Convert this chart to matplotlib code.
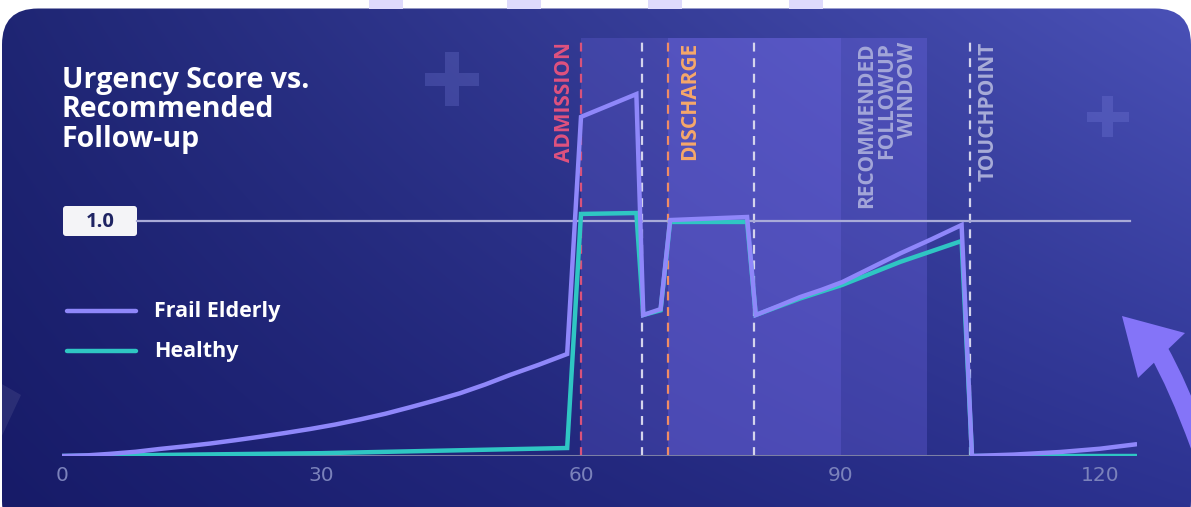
import numpy as np
import matplotlib
matplotlib.use("Agg")
import matplotlib.pyplot as plt
from matplotlib.patches import FancyBboxPatch, Polygon, Rectangle, PathPatch
from matplotlib.path import Path

# -----------------------------
# Данные
# -----------------------------
frail_x = [0, 3, 5.5, 8.5, 11.3, 14.2, 17.1, 20, 22.9, 25.8, 28.7, 31.6, 34.5,
           37.4, 40.2, 43.1, 46, 48.9, 51.8, 55.1, 58.4,
           60, 66.4, 67.2, 69.2, 70.3, 79.2, 80.2, 82.8, 85.3, 87.8, 90.2,
           93.5, 96.9, 100.5, 104, 105.2, 110, 115.4, 120, 124.2]
frail_y = [0, 0.003, 0.009, 0.018, 0.03, 0.041, 0.053, 0.067, 0.082, 0.098, 0.115,
           0.134, 0.156, 0.18, 0.207, 0.236, 0.267, 0.304, 0.345, 0.388, 0.434,
           1.443, 1.54, 0.60, 0.625, 1.004, 1.017, 0.60, 0.638, 0.676, 0.707, 0.74,
           0.8, 0.862, 0.922, 0.983, 0, 0.006, 0.017, 0.031, 0.05]

healthy_x = [0, 30, 58.4, 60, 66.4, 67.2, 69.2, 70.3, 79.2, 80.2, 85.3, 90.2,
             96.9, 104, 105.2, 124.2]
healthy_y = [0, 0.012, 0.034, 1.03, 1.034, 0.60, 0.62, 0.996, 0.996, 0.60, 0.67, 0.728,
             0.826, 0.915, 0, 0]

bands = [(60, 70), (70, 90), (90, 100)]
band_alpha = [0.22, 0.45, 0.28]

events = [60, 67, 70, 80, 105]
event_colors = ["#d9527a", "#d4d4ec", "#f08c64", "#d4d4ec", "#d4d4ec"]

xticks = [0, 30, 60, 90, 120]
ref_level = 1.0

W, H = 1191, 507

FRAIL = "#8f87fa"
HEALTHY = "#2fc6c3"

fig = plt.figure(figsize=(W / 100, H / 100), dpi=100)
fig.patch.set_facecolor("white")

# -----------------------------
# Фон-карточка (пиксельные координаты)
# -----------------------------
bg = fig.add_axes([0, 0, 1, 1])
bg.set_xlim(0, W)
bg.set_ylim(H, 0)
bg.axis("off")

for x0, x1 in [(369, 403), (507, 541), (648, 682), (789, 823)]:
    bg.add_patch(Rectangle((x0, 0), x1 - x0, 9, color="#dedafc", lw=0))

card = FancyBboxPatch((2, 8.5), W - 2, H - 8.5 + 30,
                      boxstyle="round,pad=0,rounding_size=36",
                      fc="none", ec="none")
bg.add_patch(card)

tl = np.array([0x1f, 0x26, 0x74]) / 255
tr = np.array([0x4a, 0x51, 0xb7]) / 255
bl = np.array([0x17, 0x1b, 0x68]) / 255
br = np.array([0x2c, 0x32, 0x90]) / 255
u = np.linspace(0, 1, 300)[None, :, None]
v = np.linspace(0, 1, 130)[:, None, None]
grad = (1 - v) * ((1 - u) * tl + u * tr) + v * ((1 - u) * bl + u * br)
im = bg.imshow(grad, extent=(0, W, H, 0), aspect="auto", zorder=0,
               interpolation="bilinear")
im.set_clip_path(card)

deco = []
# плюсы
plus_kw = dict(fc="#8a90ee", alpha=0.22, lw=0)
deco.append(Rectangle((425, 73), 54, 13, **plus_kw))
deco.append(Rectangle((445, 52), 14, 21, **plus_kw))
deco.append(Rectangle((445, 86), 14, 20, **plus_kw))
deco.append(Rectangle((1087, 112), 42, 10, **plus_kw))
deco.append(Rectangle((1102, 96), 11, 16, **plus_kw))
deco.append(Rectangle((1102, 122), 11, 15, **plus_kw))
# треугольник слева
deco.append(Polygon([(0, 383), (21, 395), (0, 440)], fc="white", alpha=0.08, lw=0))
# стрелка справа
deco.append(Polygon([(1122, 316), (1185, 333), (1138, 378)], fc="#8474f8", lw=0))
shaft = Path([(1158, 350), (1178, 385), (1200, 445)],
             [Path.MOVETO, Path.CURVE3, Path.CURVE3])
deco.append(PathPatch(shaft, fc="none", ec="#8474f8", lw=14))
for p in deco:
    bg.add_patch(p)
    p.set_clip_path(card)

# заголовок
bg.text(62, 66, "Urgency Score vs.\nRecommended\nFollow-up", color="white",
        fontsize=20.5, fontweight="bold", family="Open Sans",
        va="top", ha="left", linespacing=1.02)

# метка 1.0
bg.add_patch(FancyBboxPatch((63, 206), 74, 30, boxstyle="round,pad=0,rounding_size=3",
                            fc="#f4f4f7", ec="none"))
bg.text(100, 222, "1.0", color="#1f2463", fontsize=14.5, fontweight="bold",
        family="Open Sans", ha="center", va="center")

# легенда
bg.plot([67, 136], [311, 311], color=FRAIL, lw=3.2, solid_capstyle="round")
bg.plot([67, 136], [351, 351], color=HEALTHY, lw=3.2, solid_capstyle="round")
bg.text(154, 311, "Frail Elderly", color="white", fontsize=15.5, fontweight="bold",
        family="Open Sans", va="center", ha="left")
bg.text(154, 351, "Healthy", color="white", fontsize=15.5, fontweight="bold",
        family="Open Sans", va="center", ha="left")

# -----------------------------
# График
# -----------------------------
px = 8.65
x_right = (1137 - 62) / px
y_top = (456 - 38) / 235
ax = fig.add_axes([62 / W, (H - 456) / H, 1075 / W, 418 / H])
ax.set_xlim(0, x_right)
ax.set_ylim(0, y_top)
ax.patch.set_alpha(0)
for s in ax.spines.values():
    s.set_visible(False)

for (a, b), al in zip(bands, band_alpha):
    ax.axvspan(a, b, color="#7a70f0", alpha=al, lw=0, zorder=1)

for xe, c in zip(events, event_colors):
    ax.axvline(xe, color=c, lw=1.6, ls=(0, (4, 3)), zorder=2)

ax.plot([(137 - 62) / px, (1130 - 62) / px], [ref_level, ref_level],
        color="#a9abd8", lw=1.6, zorder=2)
ax.axhline(0, color="#7c7fa5", lw=2.2, zorder=2)

ax.plot(healthy_x, healthy_y, color=HEALTHY, lw=3.2, zorder=3,
        solid_joinstyle="miter", solid_capstyle="round")
ax.plot(frail_x, frail_y, color=FRAIL, lw=3.2, zorder=4,
        solid_joinstyle="miter", solid_capstyle="round")

ax.set_xticks(xticks)
ax.set_xticklabels([str(t) for t in xticks])
ax.tick_params(axis="x", length=0, pad=7, labelsize=14.5, labelcolor="#7b82bb")
ax.set_yticks([])

# подписи событий
lab_top = (456 - 42) / 235
lbl = dict(rotation=90, va="top", fontsize=15, fontweight="bold",
           family="Open Sans")
ax.text((565 - 62) / px, lab_top, "ADMISSION", color="#e0527e", ha="center", **lbl)
ax.text((690 - 62) / px, lab_top, "DISCHARGE", color="#f7a86a", ha="center", **lbl)
ax.text((887 - 62) / px, lab_top, "RECOMMENDED\nFOLLOWUP\nWINDOW", color="#a3a6d9",
        ha="center", multialignment="right", linespacing=0.95, **lbl)
ax.text((988 - 62) / px, lab_top, "TOUCHPOINT", color="#a8acd8", ha="center", **lbl)

fig.savefig("out.png", dpi=100)
